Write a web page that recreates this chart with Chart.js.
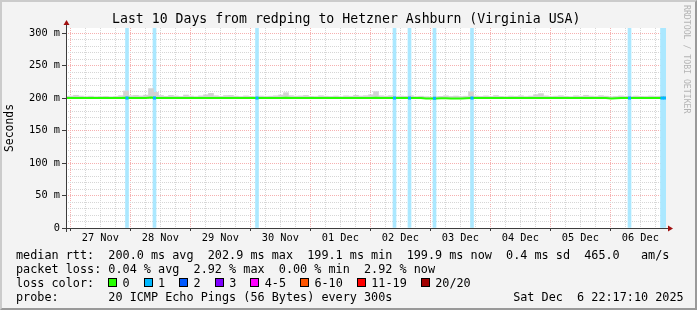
<!DOCTYPE html>
<html>
<head>
<meta charset="utf-8">
<script src="https://cdn.jsdelivr.net/npm/chart.js"></script>
<style>
  html, body { margin: 0; padding: 0; overflow: hidden; background: #f3f3f3; }
  #frame { position: absolute; left: 0; top: 0; width: 697px; height: 310px; box-sizing: border-box;
           background: #f3f3f3; border-top: 2px solid #cbcbcb; border-left: 2px solid #cbcbcb;
           border-right: 2px solid #999; border-bottom: 2px solid #999; }
  #smoke { position: absolute; left: 0; top: 0; }
  .txt { position: absolute; font-family: 'DejaVu Sans Mono', monospace; color: #000; white-space: pre; }
  #title { left: 112px; top: 11px; font-size: 13.2px; line-height: 16px; }
  #legend { left: 16px; top: 247.6px; font-size: 11.8px; line-height: 14px; }
  #mark { left: 682px; top: 5px; font-size: 8.2px; line-height: 10px; writing-mode: vertical-rl; color: #b4b4b4; }
  .sq { display: inline-block; width: 9px; height: 9px; box-sizing: border-box; border: 1px solid #000;
        margin-right: calc(1ch - 9px); }
</style>
</head>
<body>
<div id="frame"></div>
<canvas id="smoke" width="697" height="310"></canvas>
<div id="title" class="txt">Last 10 Days from redping to Hetzner Ashburn (Virginia USA)</div>
<div id="legend" class="txt"></div>
<div id="mark" class="txt">RRDTOOL / TOBI OETIKER</div>

<script>
    // graph runs 26 Nov 22:17:10 -> 06 Dec 22:17:10, x values are hours from the start
    const spanHours = 240;
    const firstMidnight = 1.714;   // 27 Nov 00:00
    const yMax = 307.7;

    const dayLabels = ['27 Nov', '28 Nov', '29 Nov', '30 Nov', '01 Dec', '02 Dec', '03 Dec', '04 Dec', '05 Dec', '06 Dec'];
    const yTickValues = [0, 50, 100, 150, 200, 250, 300];
    const yTickLabels = ['0', '50 m', '100 m', '150 m', '200 m', '250 m', '300 m'];

    // median rtt (ms), one value every 2 hours
    const median = [
        200.0, 200.0, 200.0, 200.0, 200.0, 200.0, 200.0, 200.0, 200.0, 200.0,
        200.0, 200.0, 200.3, 200.0, 200.0, 200.0, 200.0, 200.6, 200.0, 200.0,
        200.0, 200.0, 200.0, 200.0, 200.0, 200.0, 200.0, 200.0, 200.0, 200.0,
        200.0, 200.0, 200.0, 200.0, 200.0, 200.0, 200.0, 200.0, 200.0, 200.0,
        200.0, 200.0, 200.0, 200.0, 200.5, 200.0, 200.0, 200.0, 200.0, 200.0,
        200.0, 200.0, 200.0, 200.0, 200.0, 200.0, 200.0, 200.0, 200.0, 200.0,
        200.0, 200.0, 200.4, 200.0, 200.0, 200.0, 200.0, 200.0, 200.0, 200.0,
        200.0, 200.0, 199.3, 199.1, 199.2, 199.6, 199.6, 199.3, 199.2, 199.4,
        199.7, 200.0, 200.0, 200.0, 200.0, 200.0, 200.0, 200.0, 200.0, 200.0,
        200.0, 200.0, 200.0, 200.0, 200.0, 200.0, 200.0, 200.0, 200.0, 200.0,
        200.0, 200.0, 200.0, 200.0, 200.0, 200.0, 200.0, 200.0, 200.0, 199.2,
        199.6, 200.0, 200.0, 200.0, 200.0, 200.0, 200.0, 200.0, 200.0, 200.0,
        200.0
    ];

    // top of the smoke (ms), same 2 hour steps
    const smokeMax = [
        202.5, 203.0, 204.2, 203.0, 202.2, 202.8, 202.0, 202.3, 202.6, 202.0,
        202.4, 203.6, 210.8, 203.5, 204.0, 203.2, 204.4, 214.5, 208.6, 203.8,
        202.6, 204.0, 203.0, 202.4, 204.6, 203.0, 202.2, 203.3, 205.0, 207.2,
        203.4, 202.5, 203.8, 204.0, 202.8, 202.3, 203.2, 202.6, 202.2, 203.0,
        202.4, 202.8, 203.4, 204.6, 208.2, 203.6, 202.8, 203.2, 204.0, 202.6,
        202.3, 203.5, 202.7, 202.4, 203.0, 202.2, 203.3, 202.8, 204.2, 203.0,
        203.6, 205.0, 209.8, 203.4, 202.8, 203.6, 202.4, 203.0, 202.6, 203.5,
        202.3, 202.8, 202.0, 201.6, 202.2, 202.6, 203.4, 202.4, 203.0, 202.3,
        202.8, 209.6, 203.0, 202.5, 203.2, 202.4, 203.8, 202.6, 202.2, 203.0,
        202.6, 203.4, 202.3, 203.0, 205.2, 206.8, 203.2, 202.4, 202.8, 203.5,
        202.6, 202.2, 203.4, 202.8, 204.2, 203.0, 202.4, 203.6, 202.8, 202.0,
        202.4, 203.2, 202.6, 202.3, 203.0, 202.6, 202.4, 203.0, 202.5, 202.8,
        202.6
    ];

    // loss events (hours from start) and lost pings of 20
    const lossHours = [24.4, 35.4, 76.4, 131.4, 137.4, 147.4, 162.4, 225.4, 238.4, 239.4];
    const lossCounts = [1, 1, 1, 1, 1, 1, 1, 1, 1, 1];
    const lossMedian = [200.0, 200.0, 200.0, 200.0, 200.0, 199.6, 200.0, 200.0, 200.0, 200.0];

    const lossLabels = ['0', '1', '2', '3', '4-5', '6-10', '11-19', '20/20'];
    const lossColors = ['#26ff00', '#00b8ff', '#0059ff', '#7e00ff', '#ff00ff', '#ff5500', '#ff0000', '#a10000'];

    const rttStats = [['200.0', 'ms avg'], ['202.9', 'ms max'], ['199.1', 'ms min'], ['199.9', 'ms now'], ['0.4', 'ms sd'], ['465.0', '  am/s']];
    const lossStats = [['0.04', '% avg'], ['2.92', '% max'], ['0.00', '% min'], ['2.92', '% now']];
    const probeText = '20 ICMP Echo Pings (56 Bytes) every 300s';
    const stamp = 'Sat Dec  6 22:17:10 2025';

    // legend block under the graph
    const legend = document.getElementById('legend');
    function row(html) {
        const d = document.createElement('div');
        d.innerHTML = html;
        legend.appendChild(d);
    }
    row('median rtt:  ' + rttStats.map(s => s[0] + ' ' + s[1]).join('  '));
    row('packet loss: ' + lossStats.map(s => s[0] + ' ' + s[1]).join('  '));
    row('loss color:  ' + lossLabels.map((l, i) =>
        '<span class="sq" style="background:' + lossColors[i] + '"></span> ' + l).join('  '));
    row(('probe:'.padEnd(13) + probeText).padEnd(70) + stamp);

    const hours = median.map((_, i) => i * 2);

    const xTicks = [];
    for (let h = firstMidnight; h <= spanHours; h += 6) xTicks.push(h);
    const yGrid = [];
    for (let v = 0; v <= 300; v += 10) yGrid.push(v);

    function tint(hex, a) {
        const n = parseInt(hex.slice(1), 16);
        const m = v => Math.round(255 - (255 - v) * a);
        return 'rgb(' + m((n >> 16) & 255) + ',' + m((n >> 8) & 255) + ',' + m(n & 255) + ')';
    }

    const majorGrid = '#f6b0b0';
    const minorGrid = '#d6d6d6';
    const tickInk = '#3c3c3c';
    const font = { family: "'DejaVu Sans Mono', monospace", size: 10.3 };

    const rrdFrame = {
        id: 'rrdFrame',
        beforeDraw(chart) {
            const { ctx, chartArea: a } = chart;
            ctx.save();
            ctx.fillStyle = '#fff';
            ctx.fillRect(a.left, a.top, a.right - a.left, a.bottom - a.top);
            ctx.restore();
        },
        afterDatasetsDraw(chart) {
            const { ctx, chartArea: a } = chart;
            const x0 = Math.floor(a.left) + 0.5, y0 = Math.floor(a.bottom) + 0.5;
            ctx.save();
            ctx.strokeStyle = tickInk;
            ctx.lineWidth = 1;
            ctx.beginPath();
            ctx.moveTo(a.left - 4, y0); ctx.lineTo(a.right + 2, y0);
            ctx.moveTo(x0, a.bottom + 4); ctx.lineTo(x0, a.top - 3);
            ctx.stroke();
            ctx.fillStyle = '#a01010';
            ctx.beginPath();
            ctx.moveTo(x0 - 3, a.top - 3); ctx.lineTo(x0 + 3, a.top - 3); ctx.lineTo(x0, a.top - 8);
            ctx.fill();
            ctx.beginPath();
            ctx.moveTo(a.right + 2, y0 - 3); ctx.lineTo(a.right + 2, y0 + 3); ctx.lineTo(a.right + 7, y0);
            ctx.fill();
            ctx.restore();
        }
    };

    const smokeChart = new Chart(document.getElementById('smoke'), {
        type: 'bar',
        data: {
            datasets: [
                {
                    type: 'line', label: 'median rtt',
                    data: hours.map((h, i) => ({ x: h, y: median[i] })),
                    borderColor: lossColors[0], borderWidth: 2, pointRadius: 0, order: 1
                },
                {
                    type: 'line', label: 'loss median',
                    data: lossHours.map((h, i) => ({ x: h, y: lossMedian[i] })),
                    showLine: false, pointStyle: 'rect', pointRadius: 2.2, pointBorderWidth: 0,
                    pointBackgroundColor: lossCounts.map(c => lossColors[c]), order: 0
                },
                {
                    type: 'bar', label: 'smoke',
                    data: hours.map((h, i) => ({ x: h, y: [median[i], smokeMax[i]] })),
                    backgroundColor: '#d2d2d2', borderWidth: 0, barThickness: 5, grouped: false, order: 2
                },
                {
                    type: 'bar', label: 'loss',
                    data: lossHours.map(h => ({ x: h, y: [0, yMax] })),
                    backgroundColor: lossCounts.map(c => tint(lossColors[c], 0.33)),
                    borderWidth: 0, barThickness: 3, grouped: false, order: 3
                }
            ]
        },
        options: {
            responsive: false,
            animation: false,
            events: [],
            devicePixelRatio: 1,
            layout: { padding: { left: 0, right: 31, top: 28, bottom: 62 } },
            plugins: { legend: { display: false }, tooltip: { enabled: false }, title: { display: false } },
            scales: {
                x: {
                    type: 'linear', min: 0, max: spanHours, offset: false,
                    afterBuildTicks(scale) { scale.ticks = xTicks.map(v => ({ value: v })); },
                    afterFit(scale) { scale.height = 20; },
                    grid: {
                        offset: false, lineWidth: 1, tickLength: 3, tickWidth: 1,
                        color: c => c.index % 4 === 0 ? majorGrid : minorGrid,
                        tickColor: c => c.index % 4 === 0 ? tickInk : 'rgba(0,0,0,0)'
                    },
                    border: { display: false, dash: [1, 1] },
                    ticks: {
                        autoSkip: false, maxRotation: 0, minRotation: 0, padding: 1.5, color: '#000', font,
                        callback: (v, i) => i % 4 === 2 ? (dayLabels[(i - 2) / 4] || '') : ''
                    }
                },
                y: {
                    type: 'linear', min: 0, max: yMax,
                    afterBuildTicks(scale) { scale.ticks = yGrid.map(v => ({ value: v })); },
                    afterFit(scale) { scale.width = 66; },
                    grid: {
                        lineWidth: 1, tickLength: 4, tickWidth: 1,
                        color: c => c.tick && c.tick.value % 50 === 0 ? majorGrid : minorGrid,
                        tickColor: c => c.tick && c.tick.value % 50 === 0 ? tickInk : 'rgba(0,0,0,0)'
                    },
                    border: { display: false, dash: [1, 1] },
                    ticks: {
                        autoSkip: false, padding: 2, color: '#000', font,
                        callback: v => {
                            const k = yTickValues.indexOf(v);
                            return k >= 0 ? yTickLabels[k] : '';
                        }
                    },
                    title: {
                        display: true, text: 'Seconds', color: '#000',
                        font: { family: font.family, size: 11.4 }, padding: { top: 3.5, bottom: 0 }
                    }
                }
            }
        },
        plugins: [rrdFrame]
    });
</script>
</body>
</html>
